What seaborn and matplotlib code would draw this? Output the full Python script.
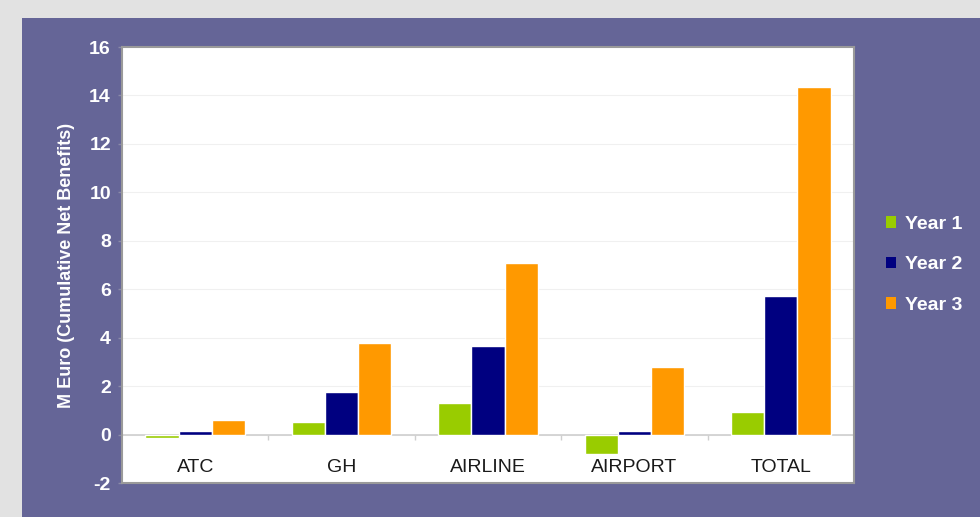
import matplotlib
matplotlib.use("Agg")
import matplotlib.pyplot as plt
import seaborn as sns
import pandas as pd
from matplotlib.patches import Rectangle, Patch

categories = ["ATC", "GH", "AIRLINE", "AIRPORT", "TOTAL"]
years = ["Year 1", "Year 2", "Year 3"]
year1 = [-0.14, 0.5, 1.3, -0.8, 0.95]
year2 = [0.15, 1.75, 3.65, 0.15, 5.7]
year3 = [0.6, 3.8, 7.1, 2.77, 14.35]
yticks = [-2, 0, 2, 4, 6, 8, 10, 12, 14, 16]
ylabel = "M Euro (Cumulative Net Benefits)"

colors = ["#99CC00", "#000080", "#FF9900"]

rows = []
for yr, vals in zip(years, [year1, year2, year3]):
    for c, v in zip(categories, vals):
        rows.append({"cat": c, "year": yr, "val": v})
df = pd.DataFrame(rows)

sns.set_theme(style="white")
plt.rcParams["font.family"] = ["Liberation Sans", "DejaVu Sans"]

fig = plt.figure(figsize=(9.8, 5.17), dpi=100)
fig.patch.set_facecolor("#e2e2e2")
# purple panel
panel = Rectangle((22 / 980, 0), 1 - 22 / 980, (517 - 18) / 517,
                  transform=fig.transFigure, facecolor="#656597",
                  edgecolor="none", zorder=-10)
fig.add_artist(panel)

ax = fig.add_axes([122 / 980, 34 / 517, (854 - 122) / 980, (483 - 47) / 517])
ax.set_zorder(5)
ax.set_facecolor("white")

sns.barplot(data=df, x="cat", y="val", hue="year", palette=colors,
            width=0.68, saturation=1, ax=ax, legend=False, zorder=3)

ax.set_ylim(-2, 16)
ax.set_yticks(yticks)
ax.set_yticklabels([str(t) for t in yticks], color="white",
                   fontsize=14, fontweight="bold")
ax.tick_params(axis="y", length=3, color="#8a8aa8", width=1, pad=5, direction="out", left=True)
for t in yticks:
    if t not in (-2, 16):
        ax.axhline(t, color="#f0f0f0", lw=0.8, zorder=1)
ax.axhline(0, color="#cfcfcf", lw=1.2, zorder=2)
n = len(categories)
ax.vlines([i + 0.5 for i in range(n - 1)], -0.22, 0, color="#cfcfcf", lw=1, zorder=2)
ax.set_xlim(-0.5, n - 0.5)

ax.set_xlabel("")
ax.set_ylabel(ylabel, color="white", fontsize=13, fontweight="bold", labelpad=10)
ax.tick_params(axis="x", length=0, pad=-17, labelsize=14, labelcolor="#1a1a1a")

for s in ax.spines.values():
    s.set_color("#9a9a9a")
    s.set_linewidth(1.5)

handles = [Patch(facecolor=c, edgecolor="none", label=y) for c, y in zip(colors, years)]
leg = fig.legend(handles=handles, loc="center left",
                 bbox_to_anchor=(868 / 980, 1 - 265 / 517), frameon=False,
                 handlelength=0.55, handleheight=0.55, handletextpad=0.45,
                 labelspacing=1.2, prop={"size": 14, "weight": "bold"})
for t in leg.get_texts():
    t.set_color("white")

fig.savefig("out.png", dpi=100, facecolor=fig.get_facecolor())
